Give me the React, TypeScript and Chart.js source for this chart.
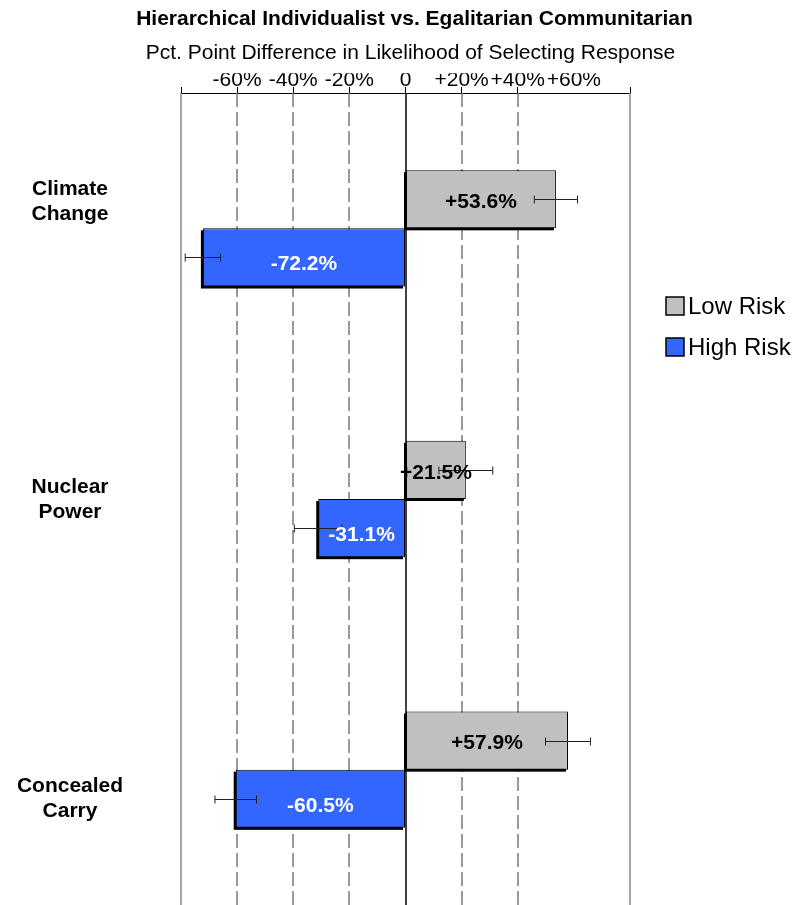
import React, { useEffect, useRef } from 'react';
import { Chart, registerables } from 'chart.js';

Chart.register(...registerables);

const FONT = '"Liberation Sans", Arial, Helvetica, sans-serif';

const titleText = 'Hierarchical Individualist vs. Egalitarian Communitarian';
const subtitleText = 'Pct. Point Difference in Likelihood of Selecting Response';

const categories = [['Climate', 'Change'], ['Nuclear', 'Power'], ['Concealed', 'Carry']];
const seriesNames = ['Low Risk', 'High Risk'];
const seriesColors = ['#C0C0C0', '#3366FF'];
const labelColors = ['#000000', '#FFFFFF'];
const lowRisk = [53.6, 21.5, 57.9];
const highRisk = [-72.2, -31.1, -60.5];
const lowRiskError = [7.7, 9.6, 8.0];
const highRiskError = [6.3, 8.5, 7.4];

const xTickValues = [-80, -60, -40, -20, 0, 20, 40, 60, 80];
const xTickLabels = ['', '-60%', '-40%', '-20%', '0', '+20%', '+40%', '+60%', ''];
const dashedGridValues = [-60, -40, -20, 20, 40];
const edgeGridValues = [-80, 80];
const hiddenTickValues = [60];

// vertical nudges of the category labels and value labels, as in the reference layout
const categoryLabelOffsets = [-28, 0, 28];
const valueLabelOffsets = [3, 7];

const customPlugin = {
  id: 'customDecor',
  beforeDatasetsDraw(chart: any) {
    const { ctx, chartArea, scales } = chart;
    const xs = scales.x;
    ctx.save();
    ctx.strokeStyle = '#7a7a7a';
    ctx.lineWidth = 1.5;
    ctx.setLineDash([14, 5]);
    dashedGridValues.forEach((v) => {
      const px = Math.round(xs.getPixelForValue(v));
      ctx.beginPath();
      ctx.moveTo(px, chartArea.top);
      ctx.lineTo(px, chartArea.bottom);
      ctx.stroke();
    });
    ctx.setLineDash([]);
    ctx.strokeStyle = '#8a8a8a';
    edgeGridValues.forEach((v) => {
      const px = Math.round(xs.getPixelForValue(v));
      ctx.beginPath();
      ctx.moveTo(px, chartArea.top);
      ctx.lineTo(px, chartArea.bottom);
      ctx.stroke();
    });
    ctx.strokeStyle = '#000';
    const zx = Math.round(xs.getPixelForValue(0));
    ctx.beginPath();
    ctx.moveTo(zx, chartArea.top);
    ctx.lineTo(zx, chartArea.bottom);
    ctx.stroke();
    ctx.fillStyle = '#000';
    chart.data.datasets.forEach((_ds: any, i: number) => {
      const meta = chart.getDatasetMeta(i);
      meta.data.forEach((bar: any) => {
        const { x, y, base, height } = bar.getProps(['x', 'y', 'base', 'height'], true);
        const left = Math.min(x, base);
        const right = Math.max(x, base);
        ctx.fillRect(left - 2, y - height / 2 + 2, right - left, height);
      });
    });
    ctx.restore();
  },
  afterDatasetsDraw(chart: any) {
    const { ctx, scales } = chart;
    const xs = scales.x;
    const errs = [lowRiskError, highRiskError];
    ctx.save();
    ctx.strokeStyle = '#222';
    ctx.lineWidth = 1;
    chart.data.datasets.forEach((ds: any, i: number) => {
      const meta = chart.getDatasetMeta(i);
      meta.data.forEach((bar: any, j: number) => {
        const v = ds.data[j];
        const e = errs[i][j];
        const lo = xs.getPixelForValue(v - e);
        const hi = xs.getPixelForValue(v + e);
        const y = Math.round(bar.y) + 0.5;
        ctx.beginPath();
        ctx.moveTo(lo, y);
        ctx.lineTo(hi, y);
        ctx.moveTo(lo, y - 4);
        ctx.lineTo(lo, y + 4);
        ctx.moveTo(hi, y - 4);
        ctx.lineTo(hi, y + 4);
        ctx.stroke();
      });
    });
    ctx.font = `bold 21px ${FONT}`;
    ctx.textAlign = 'center';
    ctx.textBaseline = 'middle';
    chart.data.datasets.forEach((ds: any, i: number) => {
      const meta = chart.getDatasetMeta(i);
      ctx.fillStyle = labelColors[i];
      meta.data.forEach((bar: any, j: number) => {
        const v = ds.data[j];
        const txt = (v > 0 ? '+' : '') + v.toFixed(1) + '%';
        ctx.fillText(txt, (bar.x + bar.base) / 2, bar.y + valueLabelOffsets[i]);
      });
    });
    ctx.restore();
  },
  afterDraw(chart: any) {
    const { ctx, chartArea, scales } = chart;
    ctx.save();
    const cx = (chartArea.left + chartArea.right) / 2;
    ctx.fillStyle = '#000';
    ctx.textAlign = 'center';
    ctx.textBaseline = 'middle';
    ctx.font = `bold 21px ${FONT}`;
    ctx.fillText(titleText, cx + 9, 19);
    ctx.font = `21px ${FONT}`;
    ctx.fillText(subtitleText, cx + 5, 53);
    ctx.font = `bold 21px ${FONT}`;
    categories.forEach((lines, i) => {
      const y = scales.y.getPixelForValue(i) + categoryLabelOffsets[i];
      const n = lines.length;
      lines.forEach((ln, k) => {
        ctx.fillText(ln, 70, y + 1 + (k - (n - 1) / 2) * 25);
      });
    });
    ctx.textAlign = 'left';
    ctx.font = `24px ${FONT}`;
    seriesNames.forEach((name, i) => {
      const y = 306 + i * 41;
      ctx.fillStyle = seriesColors[i];
      ctx.fillRect(666, y - 9, 18, 18);
      ctx.strokeStyle = '#000';
      ctx.lineWidth = 1.5;
      ctx.strokeRect(666, y - 9, 18, 18);
      ctx.fillStyle = '#000';
      ctx.fillText(name, 688, y + 1);
    });
    ctx.restore();
  },
};

export default function App() {
  const canvasRef = useRef<HTMLCanvasElement | null>(null);

  useEffect(() => {
    if (!canvasRef.current) return;
    const chart = new Chart(canvasRef.current, {
      type: 'bar',
      data: {
        labels: categories.map((c) => c.join(' ')),
        datasets: [
          {
            label: seriesNames[0],
            data: lowRisk,
            backgroundColor: seriesColors[0],
            borderColor: '#000',
            borderWidth: 1,
            borderSkipped: false,
            categoryPercentage: 0.43,
            barPercentage: 1,
          },
          {
            label: seriesNames[1],
            data: highRisk,
            backgroundColor: seriesColors[1],
            borderColor: '#000',
            borderWidth: 1,
            borderSkipped: false,
            categoryPercentage: 0.43,
            barPercentage: 1,
          },
        ],
      },
      options: {
        indexAxis: 'y',
        animation: false,
        responsive: true,
        maintainAspectRatio: false,
        layout: { padding: { top: 73.35, right: 171, bottom: 0, left: 0 } },
        plugins: {
          legend: { display: false },
          title: { display: false },
          tooltip: { enabled: false },
        },
        scales: {
          x: {
            position: 'top',
            min: -80,
            max: 80,
            afterBuildTicks: (s: any) => {
              s.ticks = xTickValues.map((v) => ({ value: v }));
            },
            ticks: {
              autoSkip: false,
              maxRotation: 0,
              minRotation: 0,
              padding: 0,
              color: '#000',
              font: { family: FONT, size: 21, lineHeight: 0.65 },
              callback: (v: any) => {
                const idx = xTickValues.indexOf(Number(v));
                return idx >= 0 ? xTickLabels[idx] : '';
              },
            },
            grid: {
              display: true,
              drawOnChartArea: false,
              drawTicks: true,
              tickLength: 6,
              tickWidth: 1,
              tickColor: (c: any) =>
                c.tick && hiddenTickValues.includes(c.tick.value) ? 'rgba(0,0,0,0)' : '#000',
            },
            border: { display: true, color: '#000', width: 1 },
          },
          y: {
            ticks: { display: false },
            grid: { display: false },
            border: { display: false },
            afterFit: (s: any) => {
              s.width = 181;
            },
          },
        },
      },
      plugins: [customPlugin],
    } as any);
    return () => chart.destroy();
  }, []);

  return (
    <div style={{ position: 'fixed', left: 0, top: 0, width: 801, height: 905, background: '#fff' }}>
      <canvas ref={canvasRef} />
    </div>
  );
}
